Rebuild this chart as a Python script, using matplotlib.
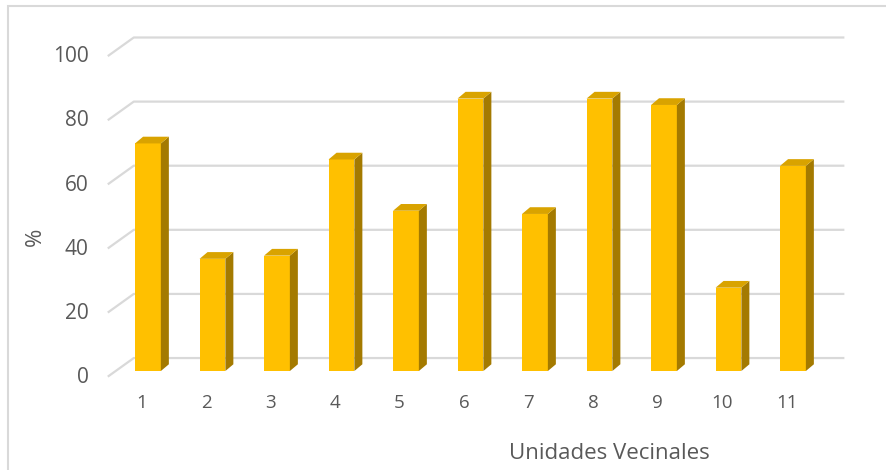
import numpy as np
import matplotlib
matplotlib.use("Agg")
import matplotlib.pyplot as plt
from matplotlib.patches import Rectangle

# --- data ---
unidades = ["1", "2", "3", "4", "5", "6", "7", "8", "9", "10", "11"]
porcentaje = [71, 35, 36, 66, 50, 85, 49, 85, 83, 26, 64]
yticks = [0, 20, 40, 60, 80, 100]

plt.rcParams['font.family'] = ['Open Sans', 'DejaVu Sans']

front = "#FFC000"
side = "#A47A00"
top = "#D9A300"
grid = "#D9D9D9"
txt = "#595959"

fig = plt.figure(figsize=(8.86, 4.70), dpi=100)
ax = fig.add_axes([0.1306, 0.2106, 0.8008, 0.682])
ax.set_xlim(0.5, 11.5)
ax.set_ylim(0, 100)
ax.axis("off")

# 3d offsets (data units)
back_dx, back_dy = 0.28, 4.05
front_dx, front_dy = -0.109, -1.56
dep_dx, dep_dy = 0.124, 2.1
w = 0.4

# gridlines on back wall + diagonal on the side
for v in yticks:
    ax.plot([0.5 + front_dx, 0.5 + back_dx, 11.5 + back_dx],
            [v + front_dy, v + back_dy, v + back_dy],
            color=grid, lw=1.6, zorder=1, clip_on=False)
    ax.text(0.5 + front_dx - 0.31, v - 2.0, str(v), ha="right", va="center",
            fontsize=15, color=txt)

x = np.arange(1, len(unidades) + 1)
ax.bar(x, porcentaje, width=w, color=front, zorder=3)
for xi, v in zip(x, porcentaje):
    xl, xr = xi - w / 2, xi + w / 2
    ax.fill([xr, xr + dep_dx, xr + dep_dx, xr], [0, dep_dy, v + dep_dy, v],
            color=side, zorder=3, lw=0, clip_on=False)
    ax.fill([xl, xr, xr + dep_dx, xl + dep_dx], [v, v, v + dep_dy, v + dep_dy],
            color=top, zorder=3, lw=0, clip_on=False)

for xi, lab in zip(x, unidades):
    ax.text(xi + front_dx + 0.01, -10, lab, ha="center", va="center",
            fontsize=13.5, color=txt)

fig.text(0.688, 0.036, "Unidades Vecinales", ha="center", va="center",
         fontsize=16, color=txt)
fig.text(0.0395, 0.496, "%", ha="center", va="center", rotation=90,
         fontsize=16, color=txt)

fig.patches.append(Rectangle((8 / 886, -0.05), 1.2, 1 - 6 / 470 + 0.05,
                             transform=fig.transFigure, fill=False,
                             edgecolor=grid, lw=1.5))

fig.savefig("out.png", dpi=100)
